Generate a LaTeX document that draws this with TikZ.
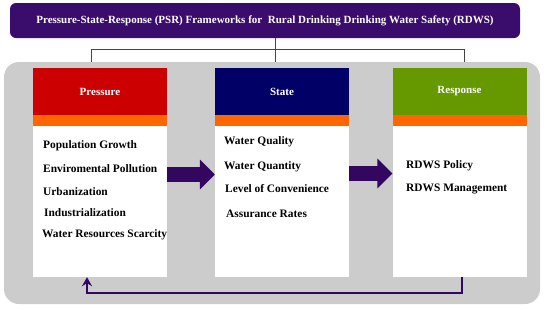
\documentclass[tikz,border=0pt]{standalone}
\usepackage{fontspec}
\setmainfont{Liberation Serif}
\usetikzlibrary{arrows.meta}
\definecolor{titlepurple}{HTML}{3A0C6C}
\definecolor{arrowpurple}{HTML}{33065F}
\definecolor{pred}{HTML}{CC0000}
\definecolor{porange}{HTML}{FF6600}
\definecolor{snavy}{HTML}{000066}
\definecolor{rgreen}{HTML}{669900}
\definecolor{bggray}{HTML}{CCCCCC}
\definecolor{linegray}{HTML}{444444}
\tikzset{
  hdr/.style={draw=none, minimum width=134pt, minimum height=47pt, inner sep=0pt, text=white, font=\bfseries\fontsize{11}{13}\selectfont},
  band/.style={draw=none, fill=porange, minimum width=134pt, minimum height=11pt, inner sep=0pt},
  body/.style={draw=none, fill=white, minimum width=134pt, minimum height=151pt, inner sep=0pt},
  item/.style={anchor=west, inner sep=0pt, font=\bfseries\fontsize{11.4}{13}\selectfont},
  treeline/.style={draw=linegray, line width=0.9pt},
  bigarrow/.style={draw=arrowpurple, line width=15pt, -{Triangle[length=15pt,width=29pt]}},
  backarrow/.style={draw=arrowpurple, line width=1.6pt, -{Stealth[length=9pt,width=10pt,inset=3pt]}}
}
\begin{document}
\begin{tikzpicture}[x=1pt,y=-1pt]
\useasboundingbox (0,0) rectangle (550,309);
% title
\node[fill=titlepurple, rounded corners=6pt, minimum width=510pt, minimum height=35pt, inner sep=0pt, text=white, font=\bfseries\fontsize{11}{13}\selectfont] (title) at (265,20.5) {Pressure-State-Response (PSR) Frameworks for \ Rural Drinking Drinking Water Safety (RDWS)};
% background
\node[fill=bggray, rounded corners=15pt, minimum width=536pt, minimum height=242pt, inner sep=0pt] (bg) at (272,183) {};
% tree lines
\coordinate (jl) at (91,49);
\coordinate (jm) at (275,49);
\coordinate (jr) at (464,49);
\draw[treeline] (title.south -| jm) -- (bg.north -| jm);
\draw[treeline] (bg.north -| jl) -- (jl) -- (jr) -- (bg.north -| jr);
% Pressure
\node[hdr, fill=pred] (ph) at (100,91.5) {Pressure};
\node[band] (pband) at (100,120.5) {};
\node[body] (pbody) at (100,201.5) {};
% State
\node[hdr, fill=snavy] (sh) at (282,91.5) {State};
\node[band] (sband) at (282,120.5) {};
\node[body] (sbody) at (282,201.5) {};
% Response
\node[hdr, fill=rgreen] (rh) at (459.5,91.5) {Response};
\node[band] (rband) at (459.5,120.5) {};
\node[body] (rbody) at (459.5,201.5) {};
% items
\node[item] (p1) at (43,146) {Population Growth};
\node[item] (p2) at (43,169) {Enviromental Pollution};
\node[item] (p3) at (43,191.5) {Urbanization};
\node[item] (p4) at (44,213) {Industrialization};
\node[item] (p5) at (42,234.5) {Water Resources Scarcity};
\node[item] (s1) at (224,142) {Water Quality};
\node[item] (s2) at (224,167) {Water Quantity};
\node[item] (s3) at (225,189) {Level of Convenience};
\node[item] (s4) at (226,214) {Assurance Rates};
\node[item] (r1) at (406,166) {RDWS Policy};
\node[item] (r2) at (406,188.5) {RDWS Management};
% big arrows
\draw[bigarrow] ([yshift=27pt]pbody.east) -- ([yshift=27pt]sbody.west);
\draw[bigarrow] ([yshift=28pt]sbody.east) -- ([yshift=28pt]rbody.west);
% feedback
\draw[backarrow] ([xshift=2.5pt]rbody.south) -- ++(0,16) -| ([xshift=-13pt]pbody.south);
\end{tikzpicture}
\end{document}
